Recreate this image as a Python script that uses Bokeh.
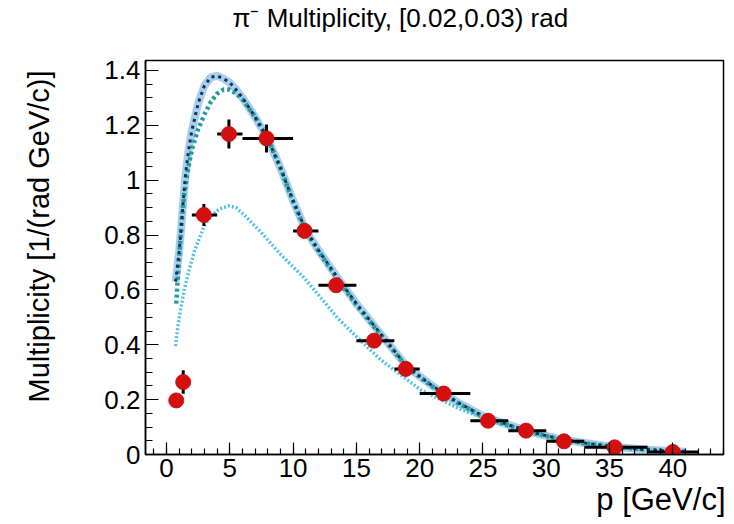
from bokeh.plotting import figure
from bokeh.models import Title, FixedTicker, Range1d, ColumnDataSource
from bokeh.embed import file_html
from bokeh.resources import INLINE
import numpy as np

# ---------------- data ----------------
title_text = "π⁻ Multiplicity, [0.02,0.03) rad"
x_label = "p [GeV/c]"
y_label = "Multiplicity [1/(rad GeV/c)]"

x_ticks = [0, 5, 10, 15, 20, 25, 30, 35, 40]
x_tick_labels = ["0", "5", "10", "15", "20", "25", "30", "35", "40"]
y_ticks = [0.0, 0.2, 0.4, 0.6, 0.8, 1.0, 1.2, 1.4]
y_tick_labels = ["0", "0.2", "0.4", "0.6", "0.8", "1", "1.2", "1.4"]

# measured points
data_p = [0.77, 1.32, 2.95, 4.93, 7.9, 10.9, 13.4, 16.4, 18.9, 21.9, 25.4, 28.4, 31.4, 35.4, 40.0]
data_y = [0.197, 0.264, 0.873, 1.168, 1.152, 0.815, 0.617, 0.415, 0.312, 0.222, 0.123, 0.087, 0.048, 0.026, 0.009]
data_yerr = [0.01, 0.043, 0.04, 0.053, 0.051, 0.02, 0.02, 0.015, 0.012, 0.01, 0.008, 0.007, 0.006, 0.006, 0.025]
bin_lo = [0.77, 1.32, 2, 4, 6, 10, 12, 15, 18, 20, 24, 27, 30, 33, 38]
bin_hi = [0.77, 1.32, 4, 6, 10, 12, 15, 18, 20, 24, 27, 30, 33, 38, 42]

# model A (light-blue band + dark dashed)
model_a_p = [0.72, 0.85, 1.0, 1.15, 1.3, 1.5, 1.75, 2.0, 2.5, 3.0, 3.5, 4.0, 4.5, 5.0, 5.5, 6.0,
             7.0, 8.0, 9.0, 10.0, 11.0, 12.0, 13.5, 15.0, 17.0, 19.0, 21.0, 23.0, 25.0, 27.0,
             29.0, 31.0, 33.0, 35.0, 37.5, 40.0, 41.0]
model_a_y = [0.63, 0.68, 0.74, 0.82, 0.91, 1.02, 1.11, 1.18, 1.28, 1.345, 1.375, 1.38, 1.37, 1.355, 1.33, 1.30,
             1.23, 1.15, 1.045, 0.925, 0.818, 0.745, 0.645, 0.55, 0.435, 0.32, 0.25, 0.19, 0.14, 0.108,
             0.08, 0.057, 0.042, 0.03, 0.019, 0.012, 0.01]

# model B (teal dotted)
model_b_p = [0.77, 0.9, 1.0, 1.2, 1.4, 1.7, 2.0, 2.5, 3.0, 3.5, 4.0, 4.5, 5.0, 5.5, 6.0, 7.0, 8.0,
             9.0, 10.0, 11.0, 12.0, 13.5, 15.0, 17.0, 19.0, 21.0, 23.0, 25.0, 27.0, 29.0, 31.0,
             33.0, 35.0, 37.5, 40.0, 41.0]
model_b_y = [0.55, 0.65, 0.72, 0.85, 0.95, 1.04, 1.11, 1.185, 1.24, 1.285, 1.315, 1.33, 1.33, 1.315, 1.295, 1.23, 1.15,
             1.045, 0.922, 0.816, 0.742, 0.64, 0.545, 0.432, 0.318, 0.248, 0.188, 0.138, 0.106, 0.079, 0.056,
             0.041, 0.03, 0.019, 0.012, 0.01]

# model C (light cyan dotted)
model_c_p = [0.72, 0.85, 1.1, 1.4, 1.77, 2.2, 2.95, 3.5, 4.2, 4.93, 5.5, 6.2, 7.43, 9.0, 10.85, 12.0,
             13.5, 15.0, 16.9, 18.5, 20.1, 23.2, 25.5, 27.5, 29.5, 31.4, 33.5, 35.4, 37.5, 40.0, 41.0]
model_c_y = [0.395, 0.45, 0.525, 0.60, 0.67, 0.74, 0.83, 0.87, 0.895, 0.906, 0.90, 0.87, 0.812, 0.73, 0.645, 0.582,
             0.498, 0.43, 0.346, 0.29, 0.235, 0.165, 0.125, 0.096, 0.072, 0.052, 0.037, 0.027, 0.019, 0.012, 0.01]

# ---------------- figure ----------------
FONT = "Liberation Sans"

p = figure(width=726, height=524, output_backend="svg", toolbar_location=None,
           x_range=Range1d(-1.66, 44.0), y_range=Range1d(0, 1.436),
           min_border_left=145, min_border_right=3, min_border_top=60, min_border_bottom=70)
p.title.visible = False
p.grid.visible = False
p.outline_line_color = "black"
p.outline_line_width = 1.5
p.background_fill_color = "white"
p.border_fill_color = "white"

xa = p.xaxis[0]
xa.ticker = FixedTicker(ticks=x_ticks, minor_ticks=list(range(-1, 45)))
xa.major_label_overrides = {t: l for t, l in zip(x_ticks, x_tick_labels)}
xa.major_tick_in = 12
xa.major_tick_out = 0
xa.minor_tick_in = 6
xa.minor_tick_out = 0
xa.major_label_standoff = 4
xa.major_label_text_font = FONT
xa.major_label_text_font_size = "26px"
xa.major_label_text_color = "black"
xa.axis_line_width = 1.5
xa.major_tick_line_width = 1.2
xa.minor_tick_line_width = 1.2

ya = p.yaxis[0]
ya.ticker = FixedTicker(ticks=y_ticks, minor_ticks=[round(v, 2) for v in np.arange(0, 1.45, 0.05)])
ya.major_label_overrides = {t: l for t, l in zip(y_ticks, y_tick_labels)}
ya.major_tick_in = 13
ya.major_tick_out = 0
ya.minor_tick_in = 7
ya.minor_tick_out = 0
ya.major_label_standoff = 5
ya.major_label_text_font = FONT
ya.major_label_text_font_size = "26px"
ya.major_label_text_color = "black"
ya.axis_line_width = 1.5
ya.major_tick_line_width = 1.2
ya.minor_tick_line_width = 1.2

# ---------------- curves ----------------
p.line(model_a_p, model_a_y, line_color="#a6caf2", line_width=8, line_alpha=0.95)
p.line(model_c_p, model_c_y, line_color="#52c3e6", line_width=3.5, line_dash="2 2")
p.line(model_b_p, model_b_y, line_color="#1f9c9c", line_width=4.5, line_dash="3 3")
p.line(model_a_p, model_a_y, line_color="#0b3a40", line_width=3, line_dash="3 4")

# ---------------- data points ----------------
src = ColumnDataSource(dict(
    x=data_p, y=data_y,
    lo=bin_lo, hi=bin_hi,
    ylo=[y - e for y, e in zip(data_y, data_yerr)],
    yhi=[y + e for y, e in zip(data_y, data_yerr)],
))
p.segment(x0="lo", y0="y", x1="hi", y1="y", source=src, line_color="black", line_width=3)
p.segment(x0="x", y0="ylo", x1="x", y1="yhi", source=src, line_color="black", line_width=3)
p.scatter("x", "y", source=src, size=15, fill_color="#d40f0f", line_color="#d40f0f", marker="circle")

# ---------------- texts ----------------
# spacer panels (empty) so that the real titles sit further from the frame
p.add_layout(Title(text=" ", standoff=23, text_font_size="1px"), "above")
p.add_layout(Title(text=title_text, align="left", offset=87, standoff=0, vertical_align="top",
                   text_font=FONT, text_font_size="26px", text_font_style="normal",
                   text_color="black"), "above")
p.add_layout(Title(text=x_label, align="right", offset=-2, standoff=0, vertical_align="bottom",
                   text_font=FONT, text_font_size="31px", text_font_style="normal",
                   text_color="black"), "below")
p.add_layout(Title(text=" ", standoff=42, text_font_size="1px"), "left")
p.add_layout(Title(text=y_label, align="right", offset=10, standoff=0, vertical_align="top",
                   text_font=FONT, text_font_size="29px", text_font_style="normal",
                   text_color="black"), "left")

open("out.html", "w").write(file_html(p, INLINE))
